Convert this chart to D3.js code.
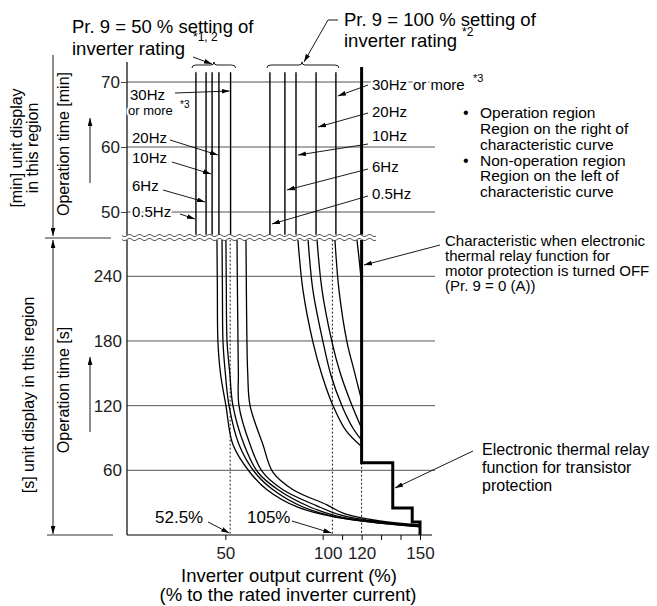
<!DOCTYPE html>
<html>
<head>
<meta charset="utf-8">
<script src="https://cdn.jsdelivr.net/npm/d3@7"></script>
<style>
body { margin: 0; background: #fff; }
svg { display: block; font-family: "Liberation Sans", Arial, sans-serif; }
.halo { paint-order: stroke; stroke: #fff; stroke-width: 4px; stroke-linejoin: round; }
</style>
</head>
<body>
<script>
// values: x = % of rated inverter current, y = operation time
var freqLabels = ['0.5Hz', '6Hz', '10Hz', '20Hz', '30Hz'];
var minTicks = [50, 60, 70];
var secTicks = [60, 120, 180, 240];
var xTicks = [50, 100, 110, 120, 130, 140, 150];
var xLabels = [50, 100, 120, 150];
var guides = [52.5, 105];

// vertical lines in the [min] region, one per frequency (0.5Hz .. 30Hz)
var min50 = [34.9, 40.1, 43.2, 46.7, 52.7];
var min100 = [72.9, 80.6, 86.3, 96.6, 106.8];

// curves in the [s] region, [current %, seconds]
var p50_05 = [[45.7, 274], [45.9, 230], [46.2, 179], [47.5, 150], [50.3, 120], [53.9, 84], [62.7, 58], [71.4, 42], [86.9, 26], [105.3, 17], [129.4, 11], [150, 7.5]];
var p50_6 = [[48.3, 274], [48.5, 230], [48.8, 179], [50.0, 150], [51.9, 120], [57.0, 84], [65.2, 58], [74.5, 42], [89.9, 26], [106.3, 17], [129.4, 11], [150, 7.9]];
var p50_10 = [[50.3, 274], [50.5, 230], [50.9, 179], [52.3, 150], [53.9, 120], [59.6, 84], [66.8, 58], [77.1, 42], [93.5, 26], [107.4, 17.6], [129.4, 12], [150, 8.3]];
var p50_20 = [[56.0, 274], [56.2, 230], [56.5, 179], [56.7, 150], [57.0, 120], [62.7, 84], [69.3, 58], [79.6, 42], [97.1, 27], [108.9, 18.6], [129.4, 12.1], [150, 8.8]];
var p50_30 = [[60.6, 274], [60.8, 230], [61.1, 179], [61.5, 150], [62.7, 120], [69.3, 84], [74.5, 58], [84.8, 42], [102.2, 28], [111.5, 19.5], [129.4, 13], [150, 9.3]];

var p100_05 = [[87.3, 274], [89.9, 227], [95.0, 179], [99.7, 148], [105.3, 120], [111.9, 97], [120, 82]];
var p100_6 = [[92.5, 274], [95.0, 227], [100.2, 179], [104.3, 148], [109.9, 120], [115.6, 99], [120, 88]];
var p100_10 = [[97.1, 274], [99.7, 227], [104.8, 179], [108.9, 151], [114.0, 125], [120, 99]];
var p100_20 = [[106.3, 274], [108.4, 227], [112.5, 179], [116.1, 153], [120, 125]];
var p100_30 = [[117.6, 274], [118.9, 253], [120, 232]];

// transistor protection step (thick line) below 120 %
var transistor = [[120, 274], [120, 67], [136, 67], [136, 25], [146, 25], [146, 12], [150, 12], [150, 0]];

var W = 657, H = 606;
var svg = d3.select('body').append('svg').attr('width', W).attr('height', H);

svg.append('defs').append('marker')
    .attr('id', 'ah')
    .attr('viewBox', '0 0 10 6')
    .attr('refX', 10).attr('refY', 3)
    .attr('markerWidth', 8).attr('markerHeight', 5)
    .attr('markerUnits', 'userSpaceOnUse')
    .attr('orient', 'auto-start-reverse')
    .append('path').attr('d', 'M0,0L10,3L0,6z').attr('fill', '#000');

var x = d3.scaleLinear().domain([0, 150]).range([128, 420]);
var yMin = d3.scaleLinear().domain([50, 70]).range([212, 82]);
var ySec = d3.scaleLinear().domain([0, 240]).range([535, 276.3]);

var minTop = 71.5, thickTop = 72.3, minBreak = 46.5, secBreak = 274;

function seg(x1, y1, x2, y2, w, col) {
    return svg.append('line')
        .attr('x1', x1).attr('y1', y1).attr('x2', x2).attr('y2', y2)
        .attr('stroke', col || '#000').attr('stroke-width', w || 1);
}
function arrow(x1, y1, x2, y2) {
    return seg(x1, y1, x2, y2, 0.9).attr('marker-end', 'url(#ah)');
}
function txt(s, tx, ty, size, anchor) {
    return svg.append('text').attr('x', tx).attr('y', ty)
        .attr('font-size', size).attr('text-anchor', anchor || 'start').text(s);
}

// gridlines
minTicks.forEach(function(d) { seg(127, yMin(d), 435, yMin(d), 1, '#555'); });
secTicks.forEach(function(d) { seg(127, ySec(d), 435, ySec(d), 1, '#555'); });

// left axis line
seg(127, 62, 127, 535, 1.2);

var gMin = svg.append('g').attr('transform', 'translate(127,0)')
    .call(d3.axisLeft(yMin).tickValues(minTicks).tickSize(6).tickPadding(1));
var gSec = svg.append('g').attr('transform', 'translate(127,0)')
    .call(d3.axisLeft(ySec).tickValues(secTicks).tickSize(0).tickPadding(5));
[gMin, gSec].forEach(function(g) {
    g.select('.domain').remove();
    g.selectAll('text').attr('font-size', 17).attr('font-family', '"Liberation Sans", Arial, sans-serif').attr('fill', '#222');
    g.selectAll('line').attr('stroke', '#444');
});

// bottom axis
seg(127, 535, 432, 535, 1.2);
var gx = svg.append('g').attr('transform', 'translate(0,535)')
    .call(d3.axisBottom(x).tickValues(xTicks).tickSize(5).tickPadding(7)
        .tickFormat(function(d) { return xLabels.indexOf(d) >= 0 ? d : ''; }));
gx.select('.domain').remove();
gx.selectAll('text').attr('font-size', 17).attr('font-family', '"Liberation Sans", Arial, sans-serif').attr('fill', '#222')
    .attr('dx', function(d) { return d === 100 ? 5 : 0; });

// dotted guides
guides.forEach(function(d) {
    seg(x(d), ySec(secBreak), x(d), 535, 0.9).attr('stroke-dasharray', '2,2');
});
seg(x(120), ySec(67), x(120), 535, 0.9).attr('stroke-dasharray', '2,2');

// vertical lines in the [min] region
min50.concat(min100).forEach(function(d) {
    seg(x(d), yMin(minTop), x(d), yMin(minBreak), 1.4);
});
seg(x(120), yMin(thickTop), x(120), yMin(minBreak), 3);

// curves in the [s] region
var line = d3.line()
    .x(function(d) { return x(d[0]); })
    .y(function(d) { return ySec(d[1]); })
    .curve(d3.curveCatmullRom.alpha(0.5));
[p50_05, p50_6, p50_10, p50_20, p50_30, p100_05, p100_6, p100_10, p100_20, p100_30].forEach(function(p) {
    svg.append('path').attr('d', line(p)).attr('fill', 'none').attr('stroke', '#000').attr('stroke-width', 1.3);
});
svg.append('path')
    .attr('d', d3.line().x(function(d) { return x(d[0]); }).y(function(d) { return ySec(d[1]); })(transistor))
    .attr('fill', 'none').attr('stroke', '#000').attr('stroke-width', 3);

// break between the two regions
svg.append('rect').attr('x', 120).attr('y', 235).attr('width', 258).attr('height', 5).attr('fill', '#fff');
[235.5, 239.5].forEach(function(y0) {
    var pts = d3.range(122, 377, 1).map(function(px) {
        return [px, y0 + 1.1 * Math.sin((px - 122) / 10 * 2 * Math.PI)];
    });
    svg.append('path').attr('d', d3.line()(pts)).attr('fill', 'none').attr('stroke', '#444').attr('stroke-width', 0.9);
});

// braces over the line groups
function brace(x1, x2, xm) {
    var y = 68;
    var d = 'M' + x1 + ',' + y + 'Q' + x1 + ',' + (y - 3) + ' ' + (x1 + 4) + ',' + (y - 3) +
        'L' + (xm - 3) + ',' + (y - 3) + 'Q' + xm + ',' + (y - 3) + ' ' + xm + ',' + (y - 6) +
        'Q' + xm + ',' + (y - 3) + ' ' + (xm + 3) + ',' + (y - 3) +
        'L' + (x2 - 4) + ',' + (y - 3) + 'Q' + x2 + ',' + (y - 3) + ' ' + x2 + ',' + y;
    svg.append('path').attr('d', d).attr('fill', 'none').attr('stroke', '#000').attr('stroke-width', 0.9);
}
brace(x(min50[0]) - 4, x(min50[4]) + 5, 214);
brace(x(min100[0]) - 3, x(min100[4]) + 3, 302);

// titles
txt('Pr. 9 = 50 % setting of', 72, 33, 18.5);
txt('inverter rating', 72, 55, 18.5);
txt('*1, 2', 193, 41, 12);
arrow(193, 57, 212, 64);

txt('Pr. 9 = 100 % setting of', 344, 26, 18.5);
txt('inverter rating', 344, 47, 18.5);
txt('*2', 462, 36, 12);
svg.append('path').attr('d', 'M338,20L328,20L304,62').attr('fill', 'none')
    .attr('stroke', '#000').attr('stroke-width', 0.9).attr('marker-end', 'url(#ah)');

// frequency labels, 50 % group
var leftY = [217, 191, 163, 143, 100];
var leftStart = [[180, 214], [163, 190], [172, 162], [170, 140], [175, 93]];
var leftEndY = [219, 202, 174, 155, 91];
freqLabels.forEach(function(f, i) {
    arrow(leftStart[i][0], leftStart[i][1], x(min50[i]) - 1, leftEndY[i]);
    txt(f, i === 4 ? 130 : 132, leftY[i], 15).attr('class', 'halo');
});
txt('or more', 128, 115, 13).attr('class', 'halo');
txt('*3', 180, 108, 10);

// frequency labels, 100 % group
var rightY = [199, 172, 141, 117, 90];
var rightStartY = [196, 169, 144, 113, 85];
var rightEndY = [224, 190, 155, 127, 96];
freqLabels.forEach(function(f, i) {
    arrow(368, rightStartY[i], x(min100[i]) + 2, rightEndY[i]);
    txt(f, 372, rightY[i], 15).attr('class', 'halo');
});
txt('or more', 413, 90, 15).attr('class', 'halo');
txt('*3', 473, 82, 11);

// operation region notes
txt('\u2022', 463, 118, 16);
txt('\u2022', 463, 166, 16);
['Operation region', 'Region on the right of', 'characteristic curve',
 'Non-operation region', 'Region on the left of', 'characteristic curve'].forEach(function(s, i) {
    txt(s, 480, [118, 134, 150, 166, 181, 197][i], 15.5);
});

// thick-line notes
['Characteristic when electronic', 'thermal relay function for',
 'motor protection is turned OFF', '(Pr. 9 = 0 (A))'].forEach(function(s, i) {
    txt(s, 445, 246 + i * 15, 15);
});
arrow(440, 245, 364, 265);

['Electronic thermal relay', 'function for transistor', 'protection'].forEach(function(s, i) {
    txt(s, 482, 455 + i * 18, 16);
});
arrow(473, 451, 395, 488);

// guide labels
txt('52.5%', 155, 523, 17).attr('class', 'halo');
arrow(208, 522, x(52.5) - 1, 533);
txt('105%', 247, 523, 17).attr('class', 'halo');
arrow(292, 521, x(105) - 1, 533);

// axis titles
txt('Inverter output current (%)', 289, 582, 18.5, 'middle');
txt('(% to the rated inverter current)', 288, 601, 18.5, 'middle');

// left side region markers
arrow(53, 55, 53, 236);
seg(45, 238, 111, 238, 1, '#333');
arrow(53, 240, 53, 534).attr('marker-start', 'url(#ah)');
seg(47, 535, 113, 535, 1, '#333');
arrow(90, 183, 90, 118);
arrow(90, 432, 90, 357);

function vtext(s, tx, ty) {
    svg.append('text').attr('transform', 'translate(' + tx + ',' + ty + ') rotate(-90)')
        .attr('font-size', 16).attr('text-anchor', 'middle').text(s);
}
vtext('[min] unit display', 22, 148);
vtext('in this region', 38, 148);
vtext('Operation time [min]', 69, 144);
vtext('[s] unit display in this region', 34, 395);
vtext('Operation time [s]', 69, 390);
</script>
</body>
</html>
